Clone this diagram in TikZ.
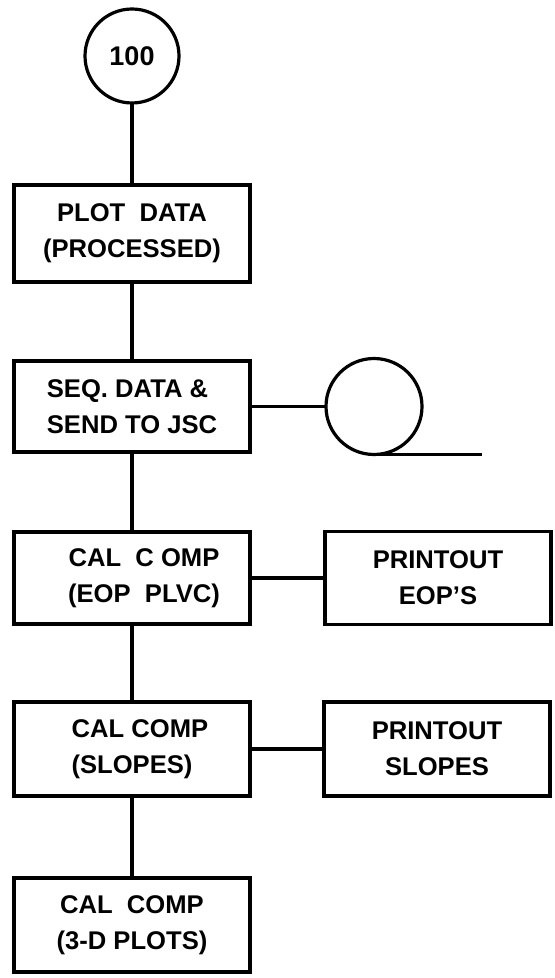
\documentclass[tikz,border=0pt]{standalone}
\usepackage{fontspec}
\setmainfont{Liberation Sans}
\usetikzlibrary{positioning}
\tikzset{
  basebox/.style={rectangle,draw=black,line width=1.6pt,outer sep=0pt,align=center,font=\fontsize{12.8}{18}\selectfont\bfseries},
  procnode/.style={basebox,minimum width=118pt,minimum height=47pt},
  printnode/.style={basebox,minimum width=113pt,minimum height=47pt},
  connnode/.style={circle,draw=black,line width=1.6pt,outer sep=0pt,minimum size=47pt,inner sep=0pt,font=\fontsize{13.5}{16}\selectfont\bfseries},
  tapenode/.style={circle,draw=black,line width=1.6pt,outer sep=0pt,minimum size=48pt,inner sep=0pt},
  link/.style={line width=1.6pt}
}

\begin{document}
\begin{tikzpicture}[node distance=40pt and 38pt]
  \useasboundingbox (0,0) rectangle (277pt,-489pt);
  %% Main column
  \node[connnode] (start) at (66pt,-28pt) {100};
  \node[procnode,minimum height=48.5pt,below=41pt of start] (plot) {PLOT\ \ DATA\\(PROCESSED)};
  \node[procnode,minimum height=45.5pt,below=39.5pt of plot,align=left] (seq) {SEQ. DATA \&\\SEND TO JSC};
  \node[procnode,minimum height=46pt,below=40pt of seq] (caleop) {\hspace*{12pt}CAL\ \ C OMP\\\hspace*{12pt}(EOP\ \ PLVC)};
  \node[procnode,below=39pt of caleop] (calslope) {\hspace*{8pt}CAL COMP\\(SLOPES)};
  \node[procnode,minimum height=47pt,below=41pt of calslope] (calplot) {CAL\ \ COMP\\(3-D PLOTS)};

  %% Side outputs
  \node[tapenode,right=38pt of seq] (tape) {};
  \coordinate[right=54pt of tape.south] (tapeend);
  \node[printnode,minimum height=46.5pt,right=37.5pt of caleop] (printeop) {PRINTOUT\\EOP'S};
  \node[printnode,right=37pt of calslope] (printslope) {PRINTOUT\\SLOPES};

  \draw[link] (start) -- (plot);
  \draw[link] (plot) -- (seq);
  \draw[link] (seq) -- (caleop);
  \draw[link] (caleop) -- (calslope);
  \draw[link] (calslope) -- (calplot);
  \draw[link] (seq) -- (tape);
  \draw[link] (tape.south) -- (tapeend);
  \draw[link] (caleop) -- (printeop);
  \draw[link] (calslope) -- (printslope);
\end{tikzpicture}
\end{document}
